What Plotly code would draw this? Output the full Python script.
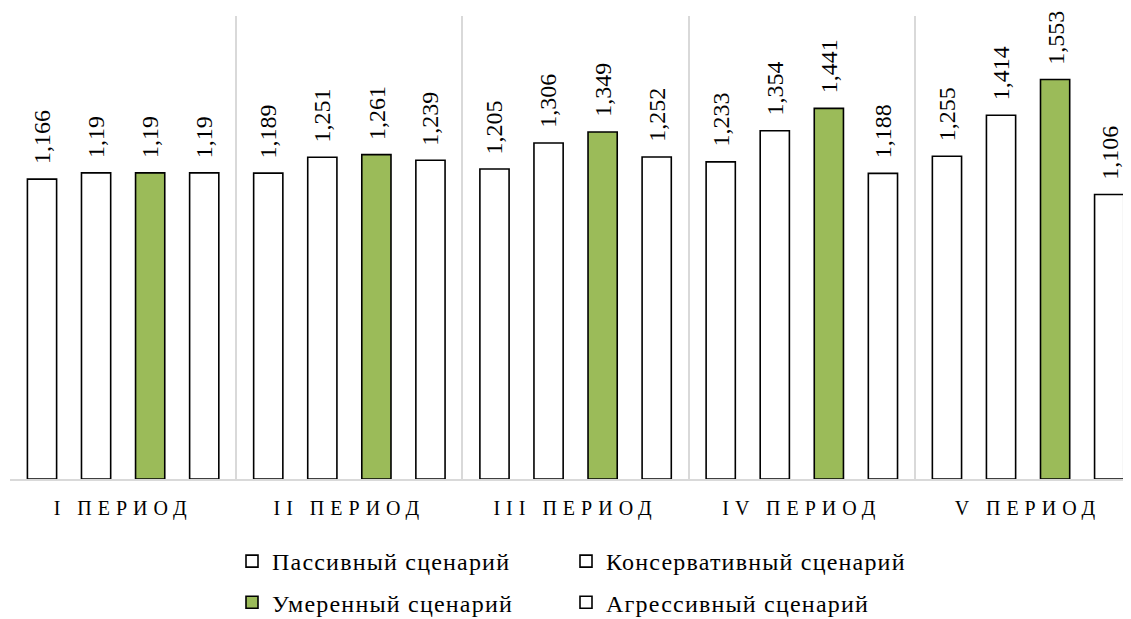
import plotly.graph_objects as go

categories = ["I ПЕРИОД", "II ПЕРИОД", "III ПЕРИОД", "IV ПЕРИОД", "V ПЕРИОД"]
series_names = ["Пассивный сценарий", "Консервативный сценарий", "Умеренный сценарий", "Агрессивный сценарий"]
passive = [1.166, 1.189, 1.205, 1.233, 1.255]
conservative = [1.19, 1.251, 1.306, 1.354, 1.414]
moderate = [1.19, 1.261, 1.349, 1.441, 1.553]
aggressive = [1.19, 1.239, 1.252, 1.188, 1.106]
series_values = [passive, conservative, moderate, aggressive]
label_texts = [
    ["1,166", "1,189", "1,205", "1,233", "1,255"],
    ["1,19", "1,251", "1,306", "1,354", "1,414"],
    ["1,19", "1,261", "1,349", "1,441", "1,553"],
    ["1,19", "1,239", "1,252", "1,188", "1,106"],
]

colors = ["#FFFFFF", "#FFFFFF", "#9BBB59", "#FFFFFF"]
legends = ["legend", "legend2", "legend", "legend2"]
FONT = "Liberation Serif"
BARGAP = 0.044
W, H = 1123, 611

fig = go.Figure()
for k, (name, vals) in enumerate(zip(series_names, series_values)):
    fig.add_trace(go.Bar(
        x=categories, y=vals,
        name='<span style="letter-spacing:1.2px">%s</span>' % name,
        marker=dict(color=colors[k], line=dict(color="#000000", width=1.6)),
        legend=legends[k], legendgroup=name,
        hoverinfo="skip",
    ))

# value labels
slot = (1 - BARGAP) / 4
for k, vals in enumerate(series_values):
    for i, v in enumerate(vals):
        fig.add_annotation(
            x=i + (k - 1.5) * slot, y=v, xref="x", yref="y",
            text=label_texts[k][i], textangle=-90, showarrow=False,
            xanchor="center", yanchor="bottom", yshift=13,
            font=dict(family=FONT, size=24, color="#000000"),
        )

ticktext = ['<span style="letter-spacing:6px">%s</span>' % c for c in categories]

fig.update_layout(
    width=W, height=H,
    margin=dict(l=2, r=0, t=8, b=140, autoexpand=False),
    paper_bgcolor="white", plot_bgcolor="white",
    barmode="group", bargap=BARGAP, bargroupgap=0.46,
    showlegend=True,
    font=dict(family=FONT, color="#000000"),
    xaxis=dict(
        type="category", range=[-0.5, 4.455],
        tickmode="array", tickvals=categories, ticktext=ticktext, tickangle=0,
        tickson="boundaries", ticks="", showgrid=True, gridcolor="#D9D9D9", gridwidth=1.5,
        showline=True, linecolor="#D9D9D9", linewidth=1.5,
        tickfont=dict(family=FONT, size=20, color="#000000"),
        ticklabelstandoff=10, fixedrange=True,
    ),
    yaxis=dict(range=[0, 1.8], visible=False, showgrid=False, fixedrange=True),
    legend=dict(
        xref="container", yref="container", x=224 / W, y=1 - 531 / H,
        xanchor="left", yanchor="top", orientation="v",
        font=dict(family=FONT, size=24, color="#000000"), tracegroupgap=7,
        bgcolor="rgba(0,0,0,0)",
    ),
    legend2=dict(
        xref="container", yref="container", x=558 / W, y=1 - 531 / H,
        xanchor="left", yanchor="top", orientation="v",
        font=dict(family=FONT, size=24, color="#000000"), tracegroupgap=7,
        bgcolor="rgba(0,0,0,0)",
    ),
)

fig.write_html("out.html")
